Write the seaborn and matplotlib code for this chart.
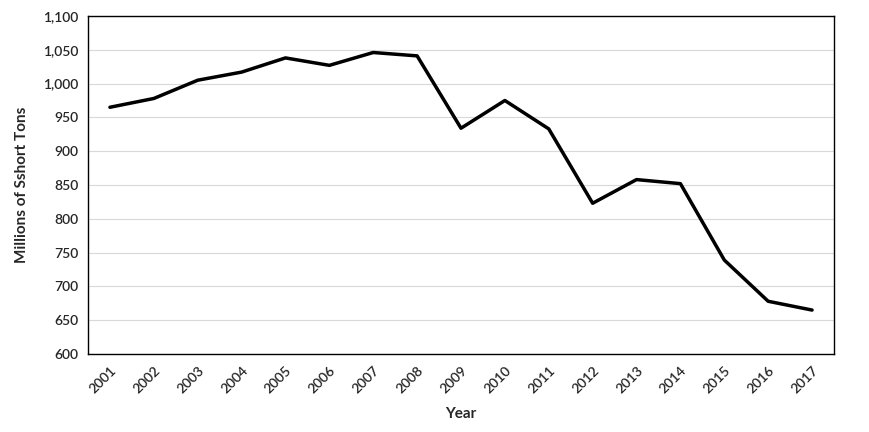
import matplotlib
matplotlib.use("Agg")
import matplotlib.pyplot as plt
import seaborn as sns
import pandas as pd

years = list(range(2001, 2018))
values = [965, 978, 1005, 1017, 1038, 1027, 1046, 1041, 934, 975, 933, 823, 858, 852, 739, 678, 665]

sns.set_style("white")
plt.rcParams['font.family'] = ['Lato', 'DejaVu Sans']
df = pd.DataFrame({"Year": years, "Value": values})

fig = plt.figure(figsize=(8.7, 4.32), dpi=100)
ax = fig.add_axes([88/870, 1-354/432, (834-88)/870, (354-16)/432])
sns.lineplot(data=df, x="Year", y="Value", ax=ax, color="black", linewidth=2.5)
ax.set_xlim(2000.5, 2017.5)
ax.set_ylim(600, 1100)
ax.set_yticks(range(600, 1101, 50))
ax.set_yticklabels([f"{v:,}" for v in range(600, 1101, 50)], fontsize=10, fontweight="semibold")
ax.set_xticks(years)
ax.set_xticklabels([str(y) for y in years], rotation=45, ha="right", rotation_mode="anchor", fontsize=10, fontweight="semibold")
ax.yaxis.grid(True, color="#d9d9d9", linewidth=0.8)
for s in ax.spines.values():
    s.set_color("black"); s.set_linewidth(1)
ax.tick_params(axis="x", length=4, color="black")
ax.set_xlabel("Year", fontsize=11, fontweight="bold", labelpad=8)
ax.set_ylabel("Millions of Sshort Tons", fontsize=11, fontweight="bold", labelpad=10)
fig.savefig("out.png", dpi=100)
